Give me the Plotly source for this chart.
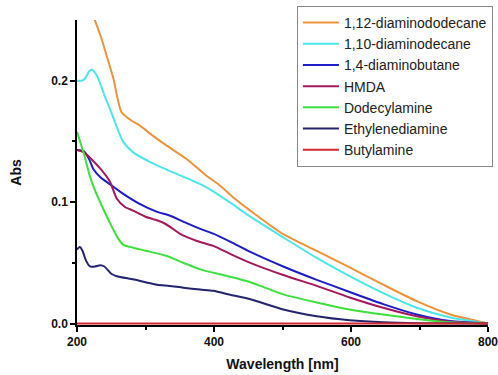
import plotly.graph_objects as go

names = ["1,12-diaminododecane", "1,10-diaminodecane", "1,4-diaminobutane",
         "HMDA", "Dodecylamine", "Ethylenediamine", "Butylamine"]
colors = ["#F0923A", "#4DE6EA", "#1C1CC8", "#A3195B", "#3EE03E", "#24246E", "#D42830"]

x_dd12 = [224, 235, 243, 253, 265, 280, 292, 310, 331, 360, 389, 409, 430, 453, 501, 550, 598, 647, 696, 745, 800]
y_dd12 = [0.253, 0.236, 0.221, 0.202, 0.174, 0.167, 0.163, 0.155, 0.1465, 0.1355, 0.1217, 0.1135, 0.103, 0.093, 0.0736, 0.0598, 0.0462, 0.032, 0.0184, 0.0074, 0.0]

x_dd10 = [200, 207, 212, 218, 222, 227, 233, 240, 248, 258, 267, 282, 307, 330, 355, 390, 420, 453, 501, 550, 598, 647, 696, 745, 800]
y_dd10 = [0.200, 0.200, 0.202, 0.208, 0.209, 0.206, 0.199, 0.188, 0.177, 0.162, 0.150, 0.141, 0.133, 0.127, 0.121, 0.112, 0.101, 0.088, 0.071, 0.054, 0.039, 0.025, 0.013, 0.005, 0.0]

x_db4 = [200, 210, 218, 224, 235, 250, 267, 290, 317, 335, 355, 380, 399, 425, 453, 501, 550, 598, 647, 696, 745, 800]
y_db4 = [0.143, 0.142, 0.135, 0.127, 0.120, 0.114, 0.107, 0.099, 0.092, 0.089, 0.084, 0.078, 0.074, 0.067, 0.059, 0.047, 0.036, 0.026, 0.016, 0.0075, 0.002, 0.0]

x_hmda = [200, 210, 220, 235, 248, 258, 270, 282, 300, 311, 326, 340, 350, 375, 399, 425, 453, 501, 550, 598, 647, 696, 745, 800]
y_hmda = [0.143, 0.141, 0.136, 0.127, 0.117, 0.103, 0.096, 0.093, 0.088, 0.086, 0.083, 0.078, 0.074, 0.068, 0.064, 0.057, 0.050, 0.040, 0.031, 0.0215, 0.013, 0.006, 0.0015, 0.0]

x_dodec = [200, 210, 219, 226, 237, 248, 258, 267, 282, 300, 331, 355, 380, 420, 453, 501, 550, 598, 647, 696, 745, 800]
y_dodec = [0.158, 0.140, 0.121, 0.110, 0.096, 0.083, 0.072, 0.065, 0.0625, 0.060, 0.0556, 0.050, 0.0446, 0.039, 0.034, 0.024, 0.0174, 0.0116, 0.0074, 0.0038, 0.001, 0.0]

x_eda = [200, 204, 208, 213, 219, 226, 234, 240, 250, 258, 282, 300, 317, 335, 355, 380, 399, 425, 453, 501, 550, 598, 647, 700, 800]
y_eda = [0.061, 0.063, 0.060, 0.052, 0.047, 0.047, 0.048, 0.047, 0.041, 0.039, 0.0364, 0.034, 0.032, 0.031, 0.0295, 0.028, 0.027, 0.0235, 0.020, 0.0116, 0.006, 0.0027, 0.001, 0.0003, 0.0]

x_but = [200, 800]
y_but = [0.0, 0.0]

xs = [x_dd12, x_dd10, x_db4, x_hmda, x_dodec, x_eda, x_but]
ys = [y_dd12, y_dd10, y_db4, y_hmda, y_dodec, y_eda, y_but]

fig = go.Figure()
for n, c, xv, yv in zip(names, colors, xs, ys):
    fig.add_trace(go.Scatter(x=xv, y=yv, mode="lines", name=n,
                             line=dict(color=c, width=2, shape="spline", smoothing=0.6)))

font_fam = "Arial, Liberation Sans, sans-serif"
fig.update_layout(
    width=498, height=375,
    margin=dict(l=77, r=10, t=20, b=50, autoexpand=False),
    plot_bgcolor="white", paper_bgcolor="white",
    font=dict(family=font_fam, color="#111"),
    legend=dict(x=1.012, y=1.046,
                xanchor="right", yanchor="top",
                bordercolor="#888", borderwidth=1, bgcolor="white",
                font=dict(size=14, color="#222"),
                tracegroupgap=0, itemwidth=36),
    showlegend=True,
)
fig.update_xaxes(range=[200, 800], tickvals=[200, 400, 600, 800],
                 showline=True, linecolor="black", linewidth=1.5, layer="below traces",
                 ticks="outside", ticklen=5, tickwidth=1.5, tickcolor="black",
                 minor=dict(tickvals=[300, 500, 700], ticks="outside", ticklen=3, tickwidth=1.5, tickcolor="black"),
                 showgrid=False, zeroline=False, ticklabeloverflow="allow",
                 tickfont=dict(size=12, weight="bold", family=font_fam),
                 title=dict(text="Wavelength [nm]", font=dict(size=14, weight="bold", family=font_fam), standoff=11))
fig.update_yaxes(range=[-0.0012, 0.25], tickvals=[0.0, 0.1, 0.2], ticktext=["0.0", "0.1", "0.2"],
                 showline=True, linecolor="black", linewidth=1.5, layer="below traces",
                 ticks="outside", ticklen=5, tickwidth=1.5, tickcolor="black",
                 minor=dict(tickvals=[0.05, 0.15], ticks="outside", ticklen=3, tickwidth=1.5, tickcolor="black"),
                 showgrid=False, zeroline=False, ticklabeloverflow="allow",
                 tickfont=dict(size=12, weight="bold", family=font_fam),
                 title=dict(text="Abs", font=dict(size=14, weight="bold", family=font_fam), standoff=26))

fig.write_html("out.html")
